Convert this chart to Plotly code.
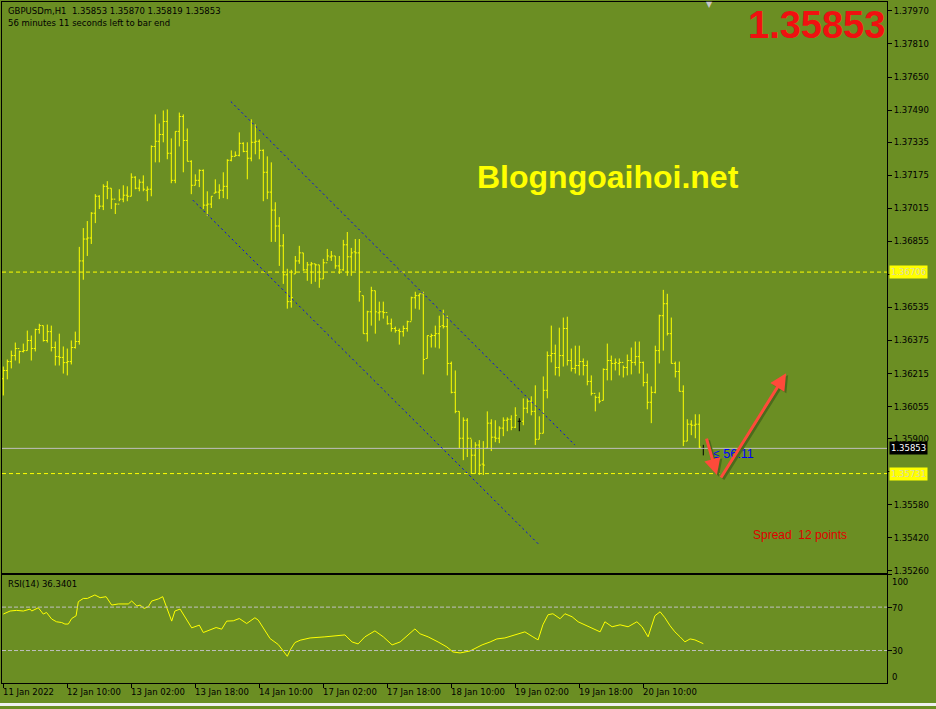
import plotly.graph_objects as go

W, H = 936, 709
BG = "#6B8E23"
YEL = "#FFFF00"
FONT = "DejaVu Sans"

bar_index = list(range(176))

opens = [1.36190, 1.36230, 1.36273, 1.36302, 1.36336, 1.36322, 1.36326, 1.36375, 1.36336, 1.36428,
         1.36447, 1.36375, 1.36418, 1.36341, 1.36297, 1.36293, 1.36268, 1.36273, 1.36341, 1.36370,
         1.36760, 1.36866, 1.36871, 1.36991, 1.37073, 1.37025, 1.37121, 1.37112, 1.37059, 1.37035,
         1.37059, 1.37078, 1.37073, 1.37165, 1.37112, 1.37141, 1.37102, 1.37107, 1.37314, 1.37339,
         1.37372, 1.37435, 1.37281, 1.37150, 1.37387, 1.37459, 1.37343, 1.37242, 1.37126, 1.37150,
         1.37198, 1.37030, 1.37035, 1.37088, 1.37093, 1.37102, 1.37121, 1.37247, 1.37266, 1.37271,
         1.37329, 1.37290, 1.37257, 1.37334, 1.37339, 1.37295, 1.37189, 1.37093, 1.37006, 1.36929,
         1.36833, 1.36693, 1.36563, 1.36697, 1.36760, 1.36799, 1.36717, 1.36741, 1.36746, 1.36741,
         1.36673, 1.36751, 1.36779, 1.36784, 1.36736, 1.36717, 1.36838, 1.36780, 1.36804, 1.36799,
         1.36592, 1.36408, 1.36514, 1.36616, 1.36509, 1.36514, 1.36510, 1.36456, 1.36433, 1.36423,
         1.36418, 1.36433, 1.36466, 1.36582, 1.36592, 1.36601, 1.36288, 1.36394, 1.36399, 1.36408,
         1.36447, 1.36442, 1.36264, 1.36124, 1.36032, 1.35902, 1.35989, 1.35902, 1.35820, 1.35869,
         1.35777, 1.35854, 1.35975, 1.35907, 1.35902, 1.35951, 1.35989, 1.35994, 1.35955, 1.35984,
         1.35984, 1.36047, 1.36081, 1.36032, 1.35897, 1.35926, 1.36134, 1.36302, 1.36312, 1.36244,
         1.36302, 1.36433, 1.36278, 1.36240, 1.36254, 1.36273, 1.36254, 1.36177, 1.36119, 1.36100,
         1.36085, 1.36235, 1.36278, 1.36264, 1.36264, 1.36269, 1.36244, 1.36278, 1.36269, 1.36297,
         1.36269, 1.36172, 1.36076, 1.36124, 1.36326, 1.36495, 1.36553, 1.36408, 1.36264, 1.36225,
         1.36129, 1.35888, 1.35970, 1.35965, 1.35970, 1.35853]

highs = [1.36249, 1.36283, 1.36326, 1.36365, 1.36326, 1.36360, 1.36423, 1.36399, 1.36432, 1.36456,
         1.36447, 1.36452, 1.36447, 1.36370, 1.36408, 1.36346, 1.36336, 1.36375, 1.36418, 1.36828,
         1.36919, 1.36953, 1.36996, 1.37083, 1.37078, 1.37131, 1.37146, 1.37112, 1.37040, 1.37107,
         1.37126, 1.37121, 1.37184, 1.37170, 1.37155, 1.37174, 1.37121, 1.37319, 1.37469, 1.37425,
         1.37488, 1.37493, 1.37353, 1.37387, 1.37478, 1.37469, 1.37401, 1.37247, 1.37179, 1.37203,
         1.37203, 1.37097, 1.37073, 1.37155, 1.37131, 1.37189, 1.37252, 1.37295, 1.37290, 1.37382,
         1.37334, 1.37334, 1.37445, 1.37421, 1.37348, 1.37300, 1.37266, 1.37237, 1.37044, 1.36972,
         1.36890, 1.36722, 1.36717, 1.36784, 1.36833, 1.36799, 1.36755, 1.36755, 1.36746, 1.36741,
         1.36770, 1.36818, 1.36808, 1.36784, 1.36784, 1.36862, 1.36900, 1.36823, 1.36866, 1.36866,
         1.36592, 1.36519, 1.36635, 1.36616, 1.36563, 1.36563, 1.36495, 1.36481, 1.36442, 1.36433,
         1.36447, 1.36471, 1.36587, 1.36611, 1.36601, 1.36611, 1.36399, 1.36408, 1.36447, 1.36495,
         1.36524, 1.36495, 1.36273, 1.36230, 1.36032, 1.36003, 1.35999, 1.35897, 1.35883, 1.35893,
         1.35888, 1.36032, 1.35994, 1.35989, 1.35960, 1.36003, 1.36003, 1.36013, 1.36052, 1.35999,
         1.36095, 1.36095, 1.36105, 1.36158, 1.36008, 1.36201, 1.36322, 1.36447, 1.36355, 1.36437,
         1.36486, 1.36490, 1.36336, 1.36350, 1.36350, 1.36288, 1.36278, 1.36206, 1.36109, 1.36124,
         1.36240, 1.36360, 1.36302, 1.36288, 1.36288, 1.36254, 1.36307, 1.36341, 1.36370, 1.36370,
         1.36273, 1.36215, 1.36153, 1.36350, 1.36500, 1.36620, 1.36601, 1.36486, 1.36273, 1.36273,
         1.36158, 1.35994, 1.35989, 1.36018, 1.36018, 1.35870]

lows = [1.36109, 1.36187, 1.36240, 1.36278, 1.36264, 1.36317, 1.36326, 1.36278, 1.36322, 1.36408,
        1.36370, 1.36365, 1.36322, 1.36254, 1.36254, 1.36215, 1.36206, 1.36259, 1.36336, 1.36355,
        1.36669, 1.36784, 1.36842, 1.36943, 1.37011, 1.37006, 1.37059, 1.37011, 1.36987, 1.37049,
        1.37044, 1.37049, 1.37073, 1.37107, 1.37097, 1.37097, 1.37049, 1.37073, 1.37237, 1.37237,
        1.37334, 1.37252, 1.37136, 1.37136, 1.37314, 1.37189, 1.37242, 1.37083, 1.37126, 1.37117,
        1.37011, 1.36977, 1.37016, 1.37088, 1.37059, 1.37064, 1.37059, 1.37242, 1.37266, 1.37266,
        1.37286, 1.37155, 1.37242, 1.37276, 1.37252, 1.37049, 1.37059, 1.36852, 1.36852, 1.36736,
        1.36649, 1.36529, 1.36534, 1.36697, 1.36746, 1.36712, 1.36664, 1.36649, 1.36659, 1.36630,
        1.36673, 1.36760, 1.36760, 1.36722, 1.36697, 1.36712, 1.36688, 1.36688, 1.36712, 1.36563,
        1.36408, 1.36370, 1.36447, 1.36408, 1.36471, 1.36481, 1.36452, 1.36418, 1.36413, 1.36355,
        1.36394, 1.36418, 1.36471, 1.36529, 1.36524, 1.36211, 1.36288, 1.36341, 1.36341, 1.36336,
        1.36433, 1.36206, 1.36119, 1.36023, 1.35854, 1.35796, 1.35811, 1.35729, 1.35729, 1.35724,
        1.35724, 1.35854, 1.35840, 1.35883, 1.35878, 1.35912, 1.35936, 1.35941, 1.35951, 1.35936,
        1.35965, 1.36023, 1.36013, 1.35869, 1.35897, 1.35926, 1.36095, 1.36269, 1.36206, 1.36201,
        1.36249, 1.36254, 1.36225, 1.36215, 1.36206, 1.36206, 1.36158, 1.36109, 1.36032, 1.36071,
        1.36085, 1.36182, 1.36182, 1.36230, 1.36206, 1.36196, 1.36206, 1.36211, 1.36254, 1.36215,
        1.36153, 1.36042, 1.35975, 1.36119, 1.36264, 1.36326, 1.36399, 1.36264, 1.36196, 1.36129,
        1.35864, 1.35888, 1.35917, 1.35902, 1.35854, 1.35819]

closes = [1.36230, 1.36273, 1.36302, 1.36336, 1.36322, 1.36326, 1.36375, 1.36336, 1.36428, 1.36447,
          1.36375, 1.36418, 1.36341, 1.36297, 1.36293, 1.36268, 1.36273, 1.36341, 1.36370, 1.36760,
          1.36866, 1.36871, 1.36991, 1.37073, 1.37025, 1.37121, 1.37112, 1.37059, 1.37035, 1.37059,
          1.37078, 1.37073, 1.37165, 1.37112, 1.37141, 1.37107, 1.37107, 1.37314, 1.37339, 1.37372,
          1.37435, 1.37281, 1.37150, 1.37387, 1.37459, 1.37343, 1.37242, 1.37126, 1.37150, 1.37198,
          1.37030, 1.37035, 1.37073, 1.37093, 1.37102, 1.37121, 1.37247, 1.37266, 1.37271, 1.37329,
          1.37290, 1.37257, 1.37334, 1.37339, 1.37295, 1.37189, 1.37093, 1.37006, 1.36929, 1.36833,
          1.36693, 1.36563, 1.36582, 1.36760, 1.36799, 1.36717, 1.36741, 1.36746, 1.36741, 1.36673,
          1.36751, 1.36784, 1.36784, 1.36736, 1.36717, 1.36838, 1.36780, 1.36799, 1.36799, 1.36611,
          1.36408, 1.36514, 1.36616, 1.36514, 1.36514, 1.36510, 1.36456, 1.36433, 1.36423, 1.36418,
          1.36433, 1.36466, 1.36582, 1.36592, 1.36601, 1.36283, 1.36399, 1.36399, 1.36408, 1.36442,
          1.36442, 1.36264, 1.36124, 1.36032, 1.35902, 1.35989, 1.35902, 1.35820, 1.35869, 1.35772,
          1.35772, 1.35975, 1.35907, 1.35902, 1.35951, 1.35989, 1.35994, 1.35955, 1.36013, 1.35984,
          1.36047, 1.36081, 1.36032, 1.35897, 1.35926, 1.36134, 1.36302, 1.36312, 1.36244, 1.36302,
          1.36433, 1.36278, 1.36240, 1.36254, 1.36273, 1.36254, 1.36177, 1.36119, 1.36100, 1.36081,
          1.36235, 1.36278, 1.36264, 1.36269, 1.36269, 1.36244, 1.36278, 1.36269, 1.36297, 1.36269,
          1.36172, 1.36076, 1.36124, 1.36326, 1.36495, 1.36553, 1.36408, 1.36264, 1.36225, 1.36129,
          1.35888, 1.35970, 1.35965, 1.35970, 1.35859, 1.35853]

rsi_bar = [0, 1.7, 3.3, 5, 6.7, 7.1, 8.75, 10, 10.8, 12.1,
           13.3, 14.6, 15.4, 16.25, 17.1, 18.2, 18.75, 20, 21, 22.9,
           24.2, 25.7, 27.1, 28.75, 31.25, 32.1, 33.4, 34.2, 35.2, 36.25,
           37.1, 38.75, 39.85, 40.85, 42.1, 42.9, 44.2, 47.1, 49, 50,
           51.7, 53.2, 54.6, 55.85, 57.5, 59, 60.85, 62.9, 63.75, 66.7,
           68.75, 71, 71.85, 72.9, 74.2, 76.7, 80.4, 85.4, 87.2, 88.7,
           90.4, 92.9, 95, 97.2, 99.2, 101.7, 102.9, 104.2, 106.2, 108.7,
           110.9, 112.4, 114.2, 116.7, 118.7, 119.7, 121.7, 123.4, 125.4, 127.9,
           130.4, 132.4, 133.7, 134.9, 136.2, 137.4, 139.2, 140.4, 142.2, 143.7,
           145.4, 147.2, 149.2, 150.4, 152.2, 154.2, 156.2, 158.4, 159.7, 161.2,
           162.9, 164.2, 165.4, 166.7, 167.9, 169.2, 170.4, 171.7, 172.9, 175]
rsi_val = [63.6, 66.4, 67, 66.4, 68.2, 66.4, 69.4, 63.6, 65.1, 59,
           56.5, 55.8, 54.4, 54.4, 59.5, 62, 75, 78, 78, 81.2,
           78.7, 79.6, 71.9, 72.9, 72.9, 75.6, 71, 71.9, 68.8, 70.4,
           75.6, 77.5, 79.6, 68.8, 57.1, 66.4, 68.2, 50.9, 53.4, 46.6,
           48.8, 51.2, 49.7, 57.1, 57.4, 59.5, 54.9, 60.2, 58, 41,
           35.5, 24.7, 31.2, 37.3, 39.5, 41.6, 42.6, 44.4, 37.9, 36.1,
           42.6, 48.1, 42.6, 35.2, 37.9, 46.3, 49.9, 45.4, 42.6, 37.9,
           33.3, 28.7, 27.8, 29.6, 33.3, 35.2, 37.9, 40.7, 41.6, 44.4,
           47.2, 42.6, 39.8, 53.7, 63, 63.9, 59.3, 63.9, 61.1, 56.5,
           53.7, 50.0, 47.2, 56.5, 51.9, 53.7, 51.9, 56.5, 51.9, 42.6,
           62.0, 65.7, 60.2, 52.8, 47.2, 42.6, 38.0, 40.7, 39.8, 36.34]
rsi_levels = [70, 30]

price_ticks = [1.37970, 1.37810, 1.37650, 1.37490, 1.37335, 1.37175, 1.37015, 1.36855, 1.36695,
               1.36535, 1.36375, 1.36215, 1.36055, 1.35900, 1.35740, 1.35580, 1.35420, 1.35260]
# labels hidden under the line-price boxes in the reference
price_tick_text = ["1.37970", "1.37810", "1.37650", "1.37490", "1.37335", "1.37175", "1.37015", "1.36855", "",
                   "1.36535", "1.36375", "1.36215", "1.36055", "1.35900", "", "1.35580", "1.35420", "1.35260"]
time_tick_bars = [0, 16, 32, 48, 64, 80, 96, 112, 128, 144, 160]
time_tick_labels = ["11 Jan 2022", "12 Jan 10:00", "13 Jan 02:00", "13 Jan 18:00", "14 Jan 10:00",
                    "17 Jan 02:00", "17 Jan 18:00", "18 Jan 10:00", "19 Jan 02:00", "19 Jan 18:00",
                    "20 Jan 10:00"]

level_upper = 1.36706
level_lower = 1.35731
bid = 1.35853

# channel lines (bar index, price)
chan_upper = [(56.9, 1.37531), (142.9, 1.35869)]
chan_lower = [(47.4, 1.37054), (134.2, 1.35382)]
# hand-drawn arrows (tail -> head)
arrow_down = [(175.7, 1.35907), (178.4, 1.35724)]
arrow_up = [(179.2, 1.35705), (195.7, 1.36216)]

def px(x):
    return x / W

def py(y):
    return 1 - y / H

XR = [-0.325, 220.925]
YR = [1.35252, 1.38013]

doji = [i for i in bar_index if opens[i] == closes[i]]
norm = [i for i in bar_index if opens[i] != closes[i]]

fig = go.Figure()

fig.add_trace(go.Ohlc(
    x=[bar_index[i] for i in norm], open=[opens[i] for i in norm], high=[highs[i] for i in norm],
    low=[lows[i] for i in norm], close=[closes[i] for i in norm],
    increasing=dict(line=dict(color=YEL, width=1)), decreasing=dict(line=dict(color=YEL, width=1)),
    tickwidth=0.4, xaxis="x", yaxis="y", hoverinfo="skip"))
fig.add_trace(go.Ohlc(
    x=[bar_index[i] for i in doji], open=[opens[i] for i in doji], high=[highs[i] for i in doji],
    low=[lows[i] for i in doji], close=[closes[i] for i in doji],
    increasing=dict(line=dict(color="#000000", width=1)), decreasing=dict(line=dict(color="#000000", width=1)),
    tickwidth=0.4, xaxis="x", yaxis="y", hoverinfo="skip"))

fig.add_trace(go.Scatter(x=rsi_bar, y=rsi_val, mode="lines", line=dict(color=YEL, width=1),
                         xaxis="x2", yaxis="y2", hoverinfo="skip"))

shapes = []
for lv in (level_upper, level_lower):
    shapes.append(dict(type="line", xref="x domain", yref="y", x0=0, x1=1, y0=lv, y1=lv,
                       line=dict(color=YEL, width=1, dash="4px,3px")))
shapes.append(dict(type="line", xref="x domain", yref="y", x0=0, x1=1, y0=bid, y1=bid,
                   line=dict(color="#C0C0C0", width=1)))
for lv in rsi_levels:
    shapes.append(dict(type="line", xref="x2 domain", yref="y2", x0=0, x1=1, y0=lv, y1=lv,
                       line=dict(color="#C0C0C0", width=1, dash="4px,2px")))
for ch in (chan_upper, chan_lower):
    shapes.append(dict(type="line", xref="x", yref="y", x0=ch[0][0], y0=ch[0][1], x1=ch[1][0], y1=ch[1][1],
                       line=dict(color="#0000FF", width=1, dash="2px,3px")))
shapes.append(dict(type="rect", xref="paper", yref="paper", x0=0, x1=1, y0=0, y1=py(706),
                   fillcolor="#F0F0F0", line=dict(width=0), layer="above"))

ann = []
small = dict(family=FONT, size=8.5, color="#000000")
ann.append(dict(text="GBPUSDm,H1  1.35853 1.35870 1.35819 1.35853", x=px(6), y=py(11), xref="paper", yref="paper",
                xanchor="left", yanchor="middle", showarrow=False, font=small))
ann.append(dict(text="56 minutes 11 seconds left to bar end", x=px(6), y=py(23), xref="paper", yref="paper",
                xanchor="left", yanchor="middle", showarrow=False, font=small))
ann.append(dict(text="RSI(14) 36.3401", x=px(6), y=py(586), xref="paper", yref="paper",
                xanchor="left", yanchor="middle", showarrow=False, font=small))
ann.append(dict(text="<b>Blogngoaihoi.net</b>", x=px(608), y=py(178), xref="paper", yref="paper",
                xanchor="center", yanchor="middle", showarrow=False,
                font=dict(family="Liberation Sans", size=32, color=YEL)))
ann.append(dict(text="<b>1.35853</b>", x=px(887), y=py(25), xref="paper", yref="paper",
                xanchor="right", yanchor="middle", showarrow=False,
                font=dict(family="Liberation Sans", size=38, color="#F01010")))
ann.append(dict(text="Spread  12 points", x=px(751), y=py(537), xref="paper", yref="paper",
                xanchor="left", yanchor="middle", showarrow=False,
                font=dict(family="Liberation Sans", size=12, color="#E00000")))
ann.append(dict(text="≤ 56:11", x=px(711), y=py(456), xref="paper", yref="paper",
                xanchor="left", yanchor="middle", showarrow=False,
                font=dict(family="Liberation Sans", size=12.5, color="#0000FF")))
ann.append(dict(text="▼", x=px(709), y=py(5), xref="paper", yref="paper",
                xanchor="center", yanchor="middle", showarrow=False,
                font=dict(family=FONT, size=8, color="#C8C8C8")))
for val, bgc, fc in ((level_upper, YEL, "#D8D8A8"), (level_lower, YEL, "#D8D8A8"), (bid, "#000000", "#FFFFFF")):
    ann.append(dict(text=f"{val:.5f}", x=px(889), y=val, xref="paper", yref="y", xanchor="left",
                    yanchor="middle", showarrow=False, bgcolor=bgc, borderpad=1,
                    font=dict(family=FONT, size=8.5, color=fc)))
for b, t in zip(time_tick_bars, time_tick_labels):
    ann.append(dict(text=t, x=b, y=py(695), xref="x2", yref="paper", xanchor="left", yanchor="middle",
                    showarrow=False, xshift=-2, font=small))
for t, yy in (("100", 584), ("70", 611), ("30", 654), ("0", 680)):
    ann.append(dict(text=t, x=px(890), y=py(yy), xref="paper", yref="paper", xanchor="left",
                    yanchor="middle", showarrow=False, font=small))
for (t, h) in (arrow_down, arrow_up):
    ann.append(dict(x=h[0] + 0.5, y=h[1] - 0.00008, ax=t[0] + 0.5, ay=t[1] - 0.00008, xref="x", yref="y",
                    axref="x", ayref="y", showarrow=True, arrowhead=2, arrowsize=1.1, arrowwidth=3,
                    arrowcolor="#4C6A1C", text=""))
    ann.append(dict(x=h[0], y=h[1], ax=t[0], ay=t[1], xref="x", yref="y", axref="x", ayref="y",
                    showarrow=True, arrowhead=2, arrowsize=1.1, arrowwidth=3, arrowcolor="#FF4A3A", text=""))

axis_common = dict(showgrid=False, zeroline=False, showline=True, mirror=True, linecolor="#000000",
                   linewidth=1)

fig.update_layout(
    width=W, height=H, margin=dict(l=0, r=0, t=0, b=0), paper_bgcolor=BG, plot_bgcolor=BG,
    showlegend=False, hovermode=False, shapes=shapes, annotations=ann,
    xaxis=dict(domain=[px(2), px(887)], range=XR, anchor="y", showticklabels=False, ticks="",
               rangeslider=dict(visible=False), **axis_common),
    xaxis2=dict(domain=[px(2), px(887)], range=XR, anchor="y2", showticklabels=False, ticks="outside",
                ticklen=4, tickcolor="#000000", tickvals=time_tick_bars,
                rangeslider=dict(visible=False), **axis_common),
    yaxis=dict(domain=[py(575), py(2)], range=YR, side="right", anchor="x", tickvals=price_ticks,
               ticktext=price_tick_text, ticks="outside", ticklen=4, tickcolor="#000000",
               tickfont=small, **axis_common),
    yaxis2=dict(domain=[py(686), py(577)], range=[0, 100], side="right", anchor="x2", showticklabels=False,
                ticks="outside", ticklen=4, tickcolor="#000000", tickvals=[30, 70, 100], **axis_common),
)

fig.write_html("out.html", config={"displayModeBar": False},
               post_script="document.body.style.margin='0px';document.body.style.overflow='hidden';")
